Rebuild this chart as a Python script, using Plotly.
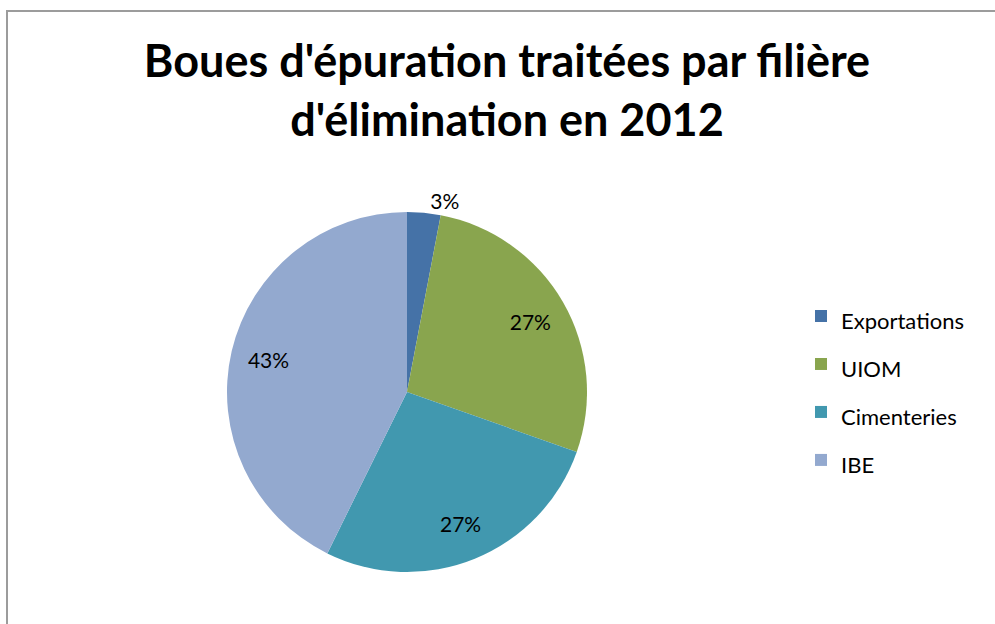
import plotly.graph_objects as go

# share of sludge per disposal route, 2012
filieres = ['Exportations', 'UIOM', 'Cimenteries', 'IBE']
parts = [3.0, 27.4, 26.9, 42.7]
couleurs = ['#4572A7', '#89A54E', '#4198AF', '#93A9CF']
positions = ['outside', 'inside', 'inside', 'inside']

W, H = 995, 624
police = 'Lato, Noto Sans, sans-serif'
dom = dict(x=[227 / W, 587 / W], y=[52 / H, 412 / H])

# legend rows in the original are spaced wider than plotly's default,
# so the legend font is large and the visible label text is shrunk back
leg_labels = ['<span style="font-size:22px">%s</span>' % f for f in filieres]

fig = go.Figure()

# the coloured pie itself (carries the legend)
fig.add_trace(go.Pie(
    labels=leg_labels, values=parts,
    sort=False, direction='clockwise', rotation=0,
    marker=dict(colors=couleurs, line=dict(width=0)),
    textinfo='none',
    domain=dom,
    customdata=filieres,
    hovertemplate='%{customdata}: %{percent}<extra></extra>',
))

# transparent ring on top, only used to put the % labels further out like Excel does
fig.add_trace(go.Pie(
    labels=leg_labels, values=parts,
    sort=False, direction='clockwise', rotation=0,
    hole=0.58,
    marker=dict(colors=['rgba(0,0,0,0)'] * 4, line=dict(width=0)),
    texttemplate='%{percent:.0%}',
    textposition=positions,
    insidetextfont=dict(family=police, size=21, color='black'),
    outsidetextfont=dict(family=police, size=21, color='black'),
    insidetextorientation='horizontal',
    domain=dom,
    showlegend=False,
    hoverinfo='skip',
))

# grey frame of the original chart area (runs off the right / bottom edge)
fig.add_shape(type='rect', xref='paper', yref='paper',
              x0=7 / W, x1=1.05, y0=-0.05, y1=(H - 11) / H,
              line=dict(color='#9c9c9c', width=2), layer='above')

fig.update_layout(
    width=W, height=H,
    margin=dict(l=0, r=0, t=0, b=0),
    paper_bgcolor='white',
    plot_bgcolor='white',
    title=dict(
        text="Boues d'épuration traitées par filière<br>d'élimination en 2012",
        x=507 / W, xanchor='center',
        y=1 - 77 / H, yanchor='top',
        font=dict(family=police, size=45, color='black', weight='bold'),
    ),
    legend=dict(
        x=801 / W, xanchor='left',
        y=1 - 287 / H, yanchor='top',
        font=dict(family=police, size=34.6, color='black'),
        itemwidth=30,
        bgcolor='rgba(0,0,0,0)',
    ),
    showlegend=True,
)

fig.write_html('out.html', config={'displayModeBar': False},
               post_script="document.body.style.margin='0';")
